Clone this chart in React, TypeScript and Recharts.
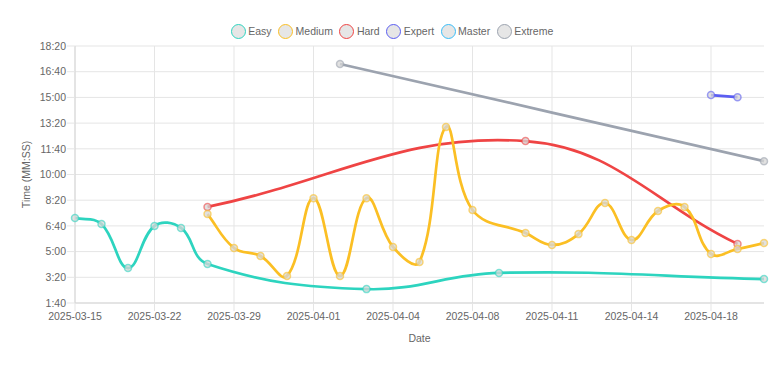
import React from "react";
import {
  CartesianGrid,
  Label,
  Line,
  LineChart,
  ReferenceLine,
  XAxis,
  YAxis
} from "recharts";

// categories (only days that have at least one run)
const dates = [
  "2025-03-15", "2025-03-17", "2025-03-19", "2025-03-22", "2025-03-24",
  "2025-03-27", "2025-03-29", "2025-03-30", "2025-03-31", "2025-04-01",
  "2025-04-02", "2025-04-03", "2025-04-04", "2025-04-05", "2025-04-06",
  "2025-04-08", "2025-04-09", "2025-04-10", "2025-04-11", "2025-04-12",
  "2025-04-13", "2025-04-14", "2025-04-15", "2025-04-16", "2025-04-18",
  "2025-04-19", "2025-04-20"
];

const xTicks = [
  "2025-03-15", "2025-03-22", "2025-03-29", "2025-04-01", "2025-04-04",
  "2025-04-08", "2025-04-11", "2025-04-14", "2025-04-18"
];

// seconds
const yTicks = [100, 200, 300, 400, 500, 600, 700, 800, 900, 1000, 1100];

const _ = null;
const easy = [431, 407, 236, 400, 392, 252, _, _, _, _, _, 154, _, _, _, _, 217, _, _, _, _, _, _, _, _, _, 193];
const medium = [_, _, _, _, _, 446, 314, 283, 205, 508, 205, 508, 318, 260, 785, 462, _, 372, 326, 368, 489, 345, 458, 474, 291, 310, 333];
const hard = [_, _, _, _, _, 474, _, _, _, _, _, _, _, _, _, _, _, 730, _, _, _, _, _, _, _, 330, _];
const expert = [_, _, _, _, _, _, _, _, _, _, _, _, _, _, _, _, _, _, _, _, _, _, _, _, 909, 901, _];
const master: (number | null)[] = dates.map(() => null);
const extreme = [_, _, _, _, _, _, _, _, _, _, 1030, _, _, _, _, _, _, _, _, _, _, _, _, _, _, _, 652];

const series = [
  { key: "easy", name: "Easy", color: "#2dd4bf", values: easy },
  { key: "medium", name: "Medium", color: "#fbbf24", values: medium },
  { key: "hard", name: "Hard", color: "#ef4444", values: hard },
  { key: "expert", name: "Expert", color: "#5b5ef2", values: expert },
  { key: "master", name: "Master", color: "#38bdf8", values: master },
  { key: "extreme", name: "Extreme", color: "#9ca3af", values: extreme }
];

const data = dates.map((date, i) => {
  const row: Record<string, string | number | null> = { date };
  series.forEach((s) => (row[s.key] = s.values[i]));
  return row;
});

const fmt = (v: number) => `${Math.floor(v / 60)}:${String(v % 60).padStart(2, "0")}`;

// chart.js style spline (tension 0.4)
const splineCurve = (context: any) => {
  let pts: { x: number; y: number }[] = [];
  return {
    areaStart() {},
    areaEnd() {},
    lineStart() {
      pts = [];
    },
    point(x: number, y: number) {
      pts.push({ x: +x, y: +y });
    },
    lineEnd() {
      const n = pts.length;
      if (!n) return;
      const t = 0.4;
      const cps = pts.map((cur, i) => {
        const prev = pts[i - 1] || cur;
        const next = pts[i + 1] || cur;
        const d01 = Math.hypot(cur.x - prev.x, cur.y - prev.y);
        const d12 = Math.hypot(next.x - cur.x, next.y - cur.y);
        let s01 = d01 / (d01 + d12);
        let s12 = d12 / (d01 + d12);
        if (isNaN(s01)) s01 = 0;
        if (isNaN(s12)) s12 = 0;
        return {
          px: cur.x - t * s01 * (next.x - prev.x),
          py: cur.y - t * s01 * (next.y - prev.y),
          nx: cur.x + t * s12 * (next.x - prev.x),
          ny: cur.y + t * s12 * (next.y - prev.y)
        };
      });
      context.moveTo(pts[0].x, pts[0].y);
      for (let i = 1; i < n; i++) {
        context.bezierCurveTo(cps[i - 1].nx, cps[i - 1].ny, cps[i].px, cps[i].py, pts[i].x, pts[i].y);
      }
    }
  };
};

const FONT = "'Liberation Sans', Arial, Helvetica, sans-serif";
const GRID = "#e5e5e5";

export default function App() {
  return (
    <div style={{ position: "relative", width: 768, height: 351, fontFamily: FONT }}>
      <div
        style={{
          position: "absolute",
          top: 15,
          left: 0,
          right: 0,
          height: 16,
          display: "flex",
          justifyContent: "center",
          alignItems: "center",
          gap: 6.5,
          fontSize: 10.5,
          color: "#666"
        }}
      >
        {series.map((s) => (
          <span key={s.key} style={{ display: "inline-flex", alignItems: "center", gap: 2.5 }}>
            <span
              style={{
                width: 15,
                height: 15,
                boxSizing: "border-box",
                borderRadius: "50%",
                border: `1px solid ${s.color}`,
                background: "#e6e6e6"
              }}
            />
            {s.name}
          </span>
        ))}
      </div>
      <LineChart width={768} height={351} data={data} margin={{ top: 38, right: 12, bottom: 6, left: 0 }}>
        <CartesianGrid stroke={GRID} vertical={false} />
        {xTicks.map((d) => (
          <ReferenceLine key={d} x={d} stroke={GRID} />
        ))}
        <XAxis
          dataKey="date"
          scale="point"
          ticks={xTicks}
          interval={0}
          height={50}
          stroke="#d6d6d6"
          tickLine={{ stroke: GRID }}
          tickSize={8}
          tickMargin={2}
          tick={{ fill: "#666", fontSize: 10.5, fontFamily: FONT }}
        >
          <Label
            content={({ viewBox }: any) => (
              <text
                x={viewBox.x + viewBox.width / 2}
                y={viewBox.y + 39}
                textAnchor="middle"
                fill="#666"
                fontSize={10.5}
                fontFamily={FONT}
              >
                Date
              </text>
            )}
          />
        </XAxis>
        <YAxis
          type="number"
          domain={[100, 1100]}
          ticks={yTicks}
          interval={0}
          width={67}
          stroke="#d6d6d6"
          tickLine={{ stroke: GRID }}
          tickSize={8}
          tickMargin={1}
          tickFormatter={fmt}
          tick={{ fill: "#666", fontSize: 10.5, fontFamily: FONT }}
        >
          <Label
            content={({ viewBox }: any) => {
              const cx = viewBox.x + 21.5;
              const cy = viewBox.y + viewBox.height / 2;
              return (
                <text
                  x={cx}
                  y={cy}
                  transform={`rotate(-90 ${cx} ${cy})`}
                  textAnchor="middle"
                  fill="#666"
                  fontSize={10.5}
                  fontFamily={FONT}
                >
                  Time (MM:SS)
                </text>
              );
            }}
          />
        </YAxis>
        {/* first series drawn last so it sits on top */}
        {[...series].reverse().map((s) => (
          <Line
            key={s.key}
            dataKey={s.key}
            name={s.name}
            type={splineCurve as any}
            stroke={s.color}
            strokeWidth={2.7}
            connectNulls
            isAnimationActive={false}
            activeDot={false}
            dot={{ r: 3.5, fill: "rgba(215,215,215,0.75)", stroke: s.color, strokeOpacity: 0.6, strokeWidth: 1.5 }}
          />
        ))}
      </LineChart>
    </div>
  );
}
